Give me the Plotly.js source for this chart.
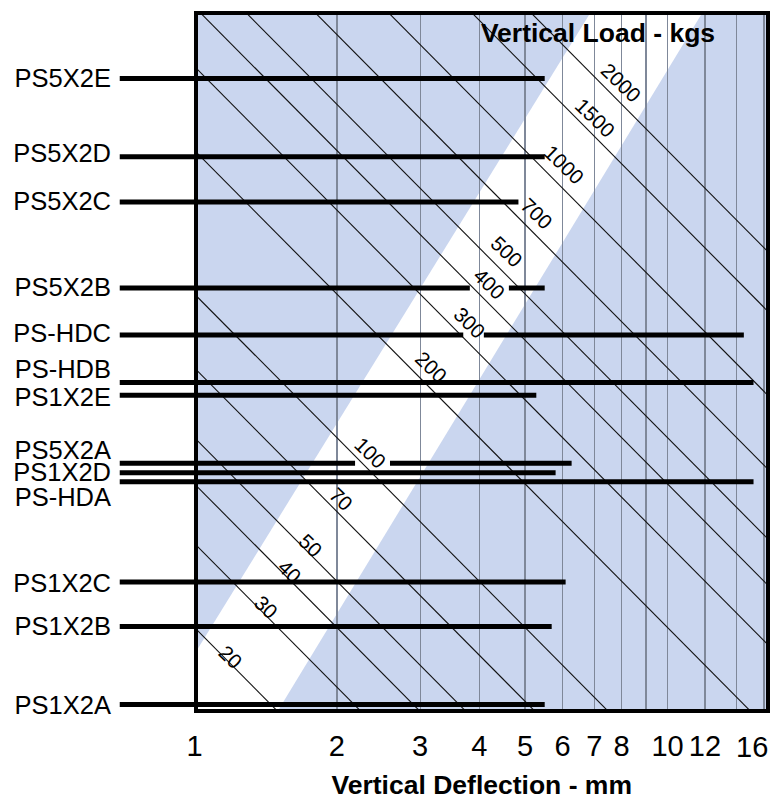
<!DOCTYPE html>
<html><head><meta charset="utf-8">
<script src="https://cdn.plot.ly/plotly-3.0.1.min.js"></script>
<style>html,body{margin:0;padding:0;background:#fff}#chart{width:770px;height:800px}</style>
</head><body><div id="chart"></div>
<script>
// ---- data ----
const products = ['PS5X2E','PS5X2D','PS5X2C','PS5X2B','PS-HDC','PS-HDB','PS1X2E','PS5X2A','PS1X2D','PS-HDA','PS1X2C','PS1X2B','PS1X2A'];
const stiffness = [283, 194, 156, 103, 82.1, 65.3, 61.4, 44.2, 42.2, 40.4, 24.9, 20.1, 13.8];      // kg/mm (row position)
const maxDeflection = [5.50, 5.50, 4.84, 5.50, 14.5, 15.2, 5.28, 6.27, 5.80, 15.2, 6.09, 5.69, 5.50]; // mm
const barBreakFrom = [null, null, null, 3.82, 3.70, null, null, 2.185, null, null, null, null, null];   // mm, bar interrupted under a load label
const barBreakTo   = [null, null, null, 4.62, 4.09, null, null, 2.59, null, null, null, null, null];
const labelStiffness = [284, 197.6, 156.8, 103.5, 82.9, 69.8, 60.8, 47.2, 42.3, 37.5, 24.8, 20.1, 13.76];
const loadValues = [20, 30, 40, 50, 70, 100, 200, 300, 400, 500, 700, 1000, 1500, 2000];           // kgs
const loadLabelDeflection = [1.189, 1.423, 1.59, 1.76, 2.05, 2.35, 3.16, 3.82, 4.195, 4.58, 5.30, 6.04, 7.02, 7.97];
const loadLabelStiffness = [17.35, 22.08, 26.15, 29.69, 37.19, 46.45, 70.35, 87.4, 105.0, 123.1, 147.9, 186.5, 234.0, 277.1];
const xTickValues = [1, 2, 3, 4, 5, 6, 7, 8, 10, 12];
const xTickLabels = ['1', '2', '3', '4', '5', '6', '7', '8', '10', '12'];
const xLastTickValue = 16;
const xLastTickLabel = '16';
const gridValues = [2, 3, 4, 5, 6, 7, 8, 9, 10, 12, 14, 16];
const bandDeflection = [1.0, 6.86, 11.83, 1.50, 1.0];
const bandStiffness = [17.6, 388, 388, 13.37, 13.37];

// ---- chart ----
const FONT = 'Liberation Sans, Arial, Helvetica, sans-serif';
const BAR_START = 0.695;
const X2_RANGE = [-0.1617, 1.2082];
const X_RANGE = [0.0063, 1.2082];
const Y_RANGE = [1.1302, 2.5851];
const BLUE = 'rgb(202,214,239)';

const traces = [];
// iso-load lines
loadValues.forEach(L => {
  const xs = [0.5, 30];
  traces.push({type: 'scatter', mode: 'lines', xaxis: 'x', yaxis: 'y',
    x: xs, y: xs.map(d => L / d), line: {color: '#111', width: 1.1}, hoverinfo: 'skip'});
});
// product bars
products.forEach((p, i) => {
  const k = stiffness[i];
  let xs, ys;
  if (barBreakFrom[i] !== null) {
    xs = [BAR_START, barBreakFrom[i], null, barBreakTo[i], maxDeflection[i]];
    ys = [k, k, null, k, k];
  } else {
    xs = [BAR_START, maxDeflection[i]];
    ys = [k, k];
  }
  traces.push({type: 'scatter', mode: 'lines', xaxis: 'x2', yaxis: 'y2', name: p,
    x: xs, y: ys, connectgaps: false, line: {color: '#000', width: 5}, hoverinfo: 'skip'});
});

const bandPath = bandDeflection.map((d, i) => (i ? 'L' : 'M') + d + ',' + bandStiffness[i]).join(' ') + ' Z';

const annotations = loadValues.map((L, i) => ({
  xref: 'x', yref: 'y', x: Math.log10(loadLabelDeflection[i]), y: Math.log10(loadLabelStiffness[i]),
  text: String(L), showarrow: false, textangle: 44,
  font: {family: FONT, size: 20.5, color: '#000'}
}));
// last deflection tick label (kept inside the page edge)
annotations.push({
  xref: 'x2', yref: 'paper', x: Math.log10(xLastTickValue), y: 0,
  xanchor: 'center', yanchor: 'middle', xshift: -12, yshift: -38,
  text: xLastTickLabel, showarrow: false,
  font: {family: FONT, size: 29, color: '#000'}
});

const layout = {
  width: 770, height: 800,
  margin: {l: 118, r: 4, t: 15, b: 91, pad: 0},
  paper_bgcolor: '#fff', plot_bgcolor: 'rgba(0,0,0,0)',
  showlegend: false, hovermode: false,
  title: {text: 'Vertical Load - kgs', xref: 'container', yref: 'container',
    x: 598 / 770, y: 1 - 33 / 800, xanchor: 'center', yanchor: 'middle',
    font: {family: FONT, size: 26.5, weight: 700, color: '#000'}},
  xaxis: {type: 'log', domain: [0.12269, 1], range: X_RANGE, anchor: 'y',
    tickmode: 'array', tickvals: gridValues, showticklabels: false, ticks: '',
    showgrid: true, gridcolor: '#7f8899', gridwidth: 1.4, zeroline: false,
    showline: true, linecolor: '#000', linewidth: 4, mirror: true, automargin: false,
    title: {text: 'Vertical Deflection - mm', standoff: 67,
      font: {family: FONT, size: 26.5, weight: 700, color: '#000'}}},
  yaxis: {type: 'log', domain: [0, 1], range: Y_RANGE, anchor: 'x',
    showticklabels: false, ticks: '', showgrid: false, zeroline: false,
    showline: true, linecolor: '#000', linewidth: 4, mirror: true, automargin: false},
  xaxis2: {type: 'log', domain: [0, 1], range: X2_RANGE, anchor: 'y2',
    tickmode: 'array', tickvals: xTickValues, ticktext: xTickLabels, ticks: '',
    ticklabelstandoff: 17, showgrid: false, zeroline: false, showline: false, automargin: false,
    tickfont: {family: FONT, size: 29, color: '#000'}},
  yaxis2: {type: 'log', domain: [0, 1], range: Y_RANGE, anchor: 'x2',
    tickmode: 'array', tickvals: labelStiffness, ticktext: products, ticks: '',
    ticklabelstandoff: 6, showgrid: false, zeroline: false, showline: false, automargin: false,
    tickfont: {family: FONT, size: 25.5, color: '#000'}},
  shapes: [
    {type: 'rect', xref: 'x domain', yref: 'y domain', x0: 0, x1: 1, y0: 0, y1: 1,
      fillcolor: BLUE, line: {width: 0}, layer: 'below'},
    {type: 'path', xref: 'x', yref: 'y', path: bandPath, fillcolor: '#fff', line: {width: 0}, layer: 'below'}
  ],
  annotations: annotations
};

Plotly.newPlot('chart', traces, layout, {staticPlot: true, displayModeBar: false});
</script>
</body></html>
